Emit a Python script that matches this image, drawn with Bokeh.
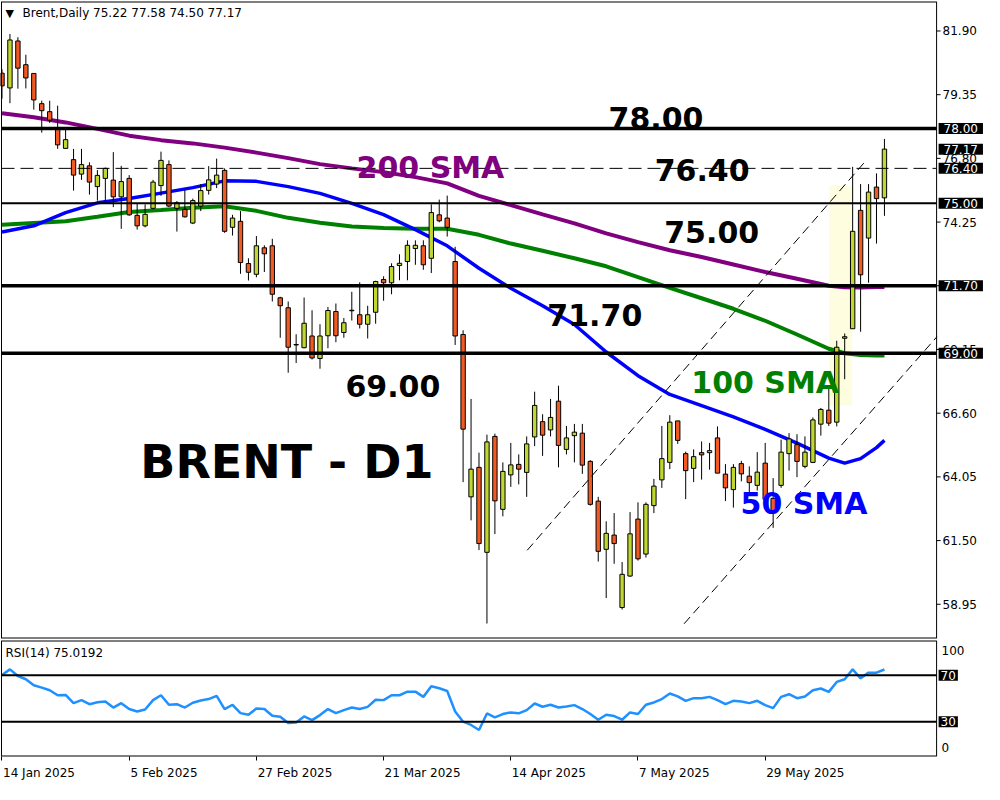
from bokeh.plotting import figure
from bokeh.layouts import column
from bokeh.models import Label, FixedTicker, Range1d
from bokeh.core.properties import value
from bokeh.embed import file_html
from bokeh.resources import INLINE

# ---------------- data (daily bars, index 0 = 14 Jan 2025) ----------------
opens = [80.21, 79.62, 81.50, 80.55, 80.20, 78.99, 78.67, 77.99, 77.20, 76.75,
         76.17, 76.50, 75.67, 76.00, 75.93, 75.26, 76.00, 74.52, 74.10, 74.80,
         75.71, 76.55, 74.80, 74.76, 74.21, 74.89, 75.52, 75.77, 76.32, 74.04,
         74.28, 72.59, 72.16, 73.22, 73.30, 71.22, 70.82, 69.33, 69.22, 69.69,
         68.79, 69.70, 70.67, 69.83, 70.70, 70.54, 70.16, 70.64, 71.95, 71.82,
         72.51, 72.67, 73.19, 73.30, 72.80, 74.54, 74.41, 72.67, 69.75, 63.25,
         64.43, 61.03, 65.67, 62.75, 64.13, 64.55, 64.23, 65.65, 66.26, 65.93,
         67.08, 65.15, 65.70, 65.80, 64.67, 63.08, 61.15, 61.72, 58.82, 60.08,
         62.36, 60.96, 62.90, 63.93, 64.63, 66.29, 64.98, 64.39, 65.02, 65.02,
         65.61, 64.16, 63.54, 64.58, 64.08, 63.71, 64.60, 63.19, 63.71, 64.98,
         65.34, 64.47, 64.63, 66.16, 66.72, 66.24, 69.60, 69.98, 74.72, 73.61,
         75.65, 75.22]
highs = [80.37, 81.78, 81.65, 80.95, 80.20, 79.11, 79.11, 78.91, 78.03, 77.18,
         77.18, 76.64, 76.33, 76.43, 77.05, 76.50, 76.13, 74.99, 74.96, 75.94,
         77.07, 76.72, 75.09, 75.54, 75.19, 75.77, 76.49, 76.79, 76.40, 74.54,
         74.69, 72.80, 73.69, 73.32, 73.58, 71.26, 71.07, 69.76, 71.23, 70.72,
         70.16, 70.85, 70.99, 70.41, 71.46, 71.84, 70.90, 71.90, 72.08, 72.60,
         72.96, 73.52, 73.52, 73.52, 74.96, 75.15, 75.31, 73.26, 69.92, 67.17,
         65.02, 65.74, 65.78, 64.63, 65.41, 64.95, 65.67, 67.46, 66.56, 67.17,
         67.70, 66.09, 66.17, 66.17, 64.72, 63.25, 62.27, 62.60, 60.64, 62.64,
         63.03, 63.03, 63.97, 66.09, 66.52, 66.29, 65.06, 65.15, 65.47, 65.41,
         66.07, 64.56, 64.56, 64.69, 64.47, 65.04, 65.41, 64.00, 65.54, 65.80,
         65.76, 65.67, 66.43, 66.81, 67.63, 69.50, 69.79, 76.46, 75.77, 75.77,
         76.20, 77.58]
lows = [79.19, 79.01, 79.59, 79.60, 78.75, 77.83, 78.22, 77.18, 77.18, 75.51,
        75.94, 75.35, 75.11, 75.07, 74.85, 73.98, 74.50, 73.95, 74.04, 74.76,
        75.30, 74.85, 73.87, 74.43, 74.17, 74.69, 75.35, 75.61, 73.82, 73.71,
        72.18, 71.91, 72.04, 72.25, 71.07, 69.62, 68.22, 68.61, 69.20, 68.75,
        68.38, 69.20, 69.44, 69.62, 70.31, 69.99, 69.59, 70.18, 71.10, 71.36,
        71.92, 71.92, 72.54, 72.34, 72.21, 74.24, 73.67, 69.33, 63.84, 62.31,
        61.12, 58.18, 61.76, 62.47, 63.65, 63.75, 63.25, 65.28, 64.89, 65.67,
        64.43, 64.95, 64.63, 64.17, 62.90, 60.66, 59.20, 60.57, 58.74, 60.05,
        60.70, 60.82, 62.60, 63.61, 64.36, 65.37, 63.16, 63.84, 63.94, 64.34,
        64.20, 63.08, 62.82, 63.87, 63.30, 63.50, 63.00, 62.01, 63.61, 64.30,
        64.04, 64.39, 64.60, 65.70, 66.09, 66.07, 67.96, 69.98, 69.86, 71.82,
        73.39, 74.50]
closes = [79.70, 81.54, 80.41, 80.02, 79.14, 78.71, 78.33, 77.34, 77.55, 76.13,
          76.55, 75.85, 76.12, 76.40, 75.26, 75.87, 74.54, 74.10, 74.56, 75.85,
          76.72, 74.89, 75.02, 74.46, 75.11, 75.51, 75.94, 76.13, 73.88, 74.41,
          72.63, 72.24, 73.30, 72.98, 71.36, 70.90, 69.24, 69.35, 70.20, 68.81,
          69.69, 70.71, 69.70, 70.22, 70.72, 70.16, 70.54, 71.87, 71.82, 72.47,
          72.60, 73.32, 73.32, 72.54, 74.63, 74.30, 74.04, 69.69, 65.96, 64.36,
          61.38, 65.45, 63.09, 64.27, 64.53, 64.36, 65.37, 66.91, 65.72, 66.43,
          65.31, 65.61, 65.84, 64.52, 62.95, 61.07, 61.79, 61.38, 60.15, 61.77,
          60.77, 62.95, 63.68, 64.78, 66.24, 65.51, 64.30, 64.86, 64.93, 65.10,
          64.20, 63.61, 64.43, 64.17, 63.82, 64.24, 63.15, 62.64, 65.04, 65.57,
          64.67, 65.04, 66.33, 66.75, 66.20, 69.24, 69.66, 73.88, 72.14, 75.45,
          75.19, 77.17]

sma_idx = [0, 4, 8, 12, 16, 20, 24, 28, 32, 36, 40, 44, 48, 52, 56, 60, 64, 68,
           72, 76, 80, 84, 88, 92, 96, 100, 104, 106, 108, 110, 111]
sma50 = [73.85, 74.10, 74.63, 75.02, 75.19, 75.41, 75.63, 75.90, 75.88, 75.67,
         75.40, 75.00, 74.55, 73.95, 73.30, 72.40, 71.60, 70.90, 70.15, 69.05,
         68.10, 67.35, 66.90, 66.45, 65.95, 65.40, 64.80, 64.60, 64.78, 65.22,
         65.51]
sma100 = [74.14, 74.21, 74.28, 74.46, 74.65, 74.73, 74.82, 74.88, 74.70, 74.42,
          74.22, 74.07, 74.01, 73.98, 73.98, 73.74, 73.39, 73.10, 72.80, 72.48,
          72.05, 71.62, 71.20, 70.78, 70.30, 69.75, 69.18, 69.00, 68.93, 68.91,
          68.91]
sma200 = [78.61, 78.45, 78.24, 77.98, 77.71, 77.53, 77.40, 77.23, 77.03, 76.81,
          76.57, 76.40, 76.25, 76.05, 75.80, 75.30, 74.93, 74.56, 74.20, 73.80,
          73.45, 73.12, 72.85, 72.55, 72.25, 71.98, 71.70, 71.64, 71.63, 71.65,
          71.65]
rsi14 = [70.3, 75.1, 69.4, 66.6, 61.4, 59.4, 57.1, 52.8, 53.1, 46.0,
         48.6, 45.1, 46.8, 47.4, 42.2, 46.0, 40.9, 38.8, 40.5, 48.6,
         52.8, 44.6, 45.1, 42.2, 46.3, 48.3, 49.5, 52.3, 40.9, 44.6,
         37.4, 36.0, 41.4, 40.9, 35.1, 34.3, 28.9, 29.4, 34.5, 31.4,
         35.7, 40.9, 37.4, 40.0, 42.2, 40.9, 42.8, 48.9, 48.6, 52.8,
         52.8, 55.9, 55.9, 51.4, 60.5, 58.8, 56.5, 38.8, 30.0, 27.2,
         22.9, 37.1, 33.7, 36.6, 38.0, 37.2, 40.0, 45.7, 42.9, 44.6,
         42.2, 43.1, 44.3, 40.9, 36.6, 31.7, 36.0, 34.9, 31.7, 38.0,
         36.6, 44.6, 46.6, 49.5, 54.3, 51.8, 48.0, 50.3, 50.3, 51.4,
         48.6, 45.1, 48.0, 47.4, 46.0, 48.0, 44.3, 41.7, 51.4, 53.7,
         50.3, 51.7, 57.1, 58.6, 55.7, 64.3, 66.6, 75.1, 67.4, 72.3,
         72.3, 75.0192]

date_idx = [0, 16, 32, 48, 64, 80, 96]
date_labels = ["14 Jan 2025", "5 Feb 2025", "27 Feb 2025", "21 Mar 2025",
               "14 Apr 2025", "7 May 2025", "29 May 2025"]
price_ticks = [81.90, 79.35, 76.80, 74.25, 71.70, 69.15, 66.60, 64.05, 61.50, 58.95]
covered_ticks = [71.70]
levels = [78.00, 76.40, 75.00, 71.70, 69.00]
rsi_levels = [70, 30]
rsi_ticks = [100, 0]

# drawn objects (channel, highlight) in bar-index / price coordinates
chan_x0 = [66.06, 85.8]
chan_y0 = [61.11, 58.17]
chan_x1 = [108.7, 117.6]
chan_y1 = [76.72, 69.66]
hl_left, hl_right, hl_bottom, hl_top = [104.06], [106.94], [66.91], [75.70]

# ---------------- geometry / style ----------------
BAR = 7.95                       # px per bar
K0, K1 = -0.0625, 117.56         # pane left / right edge in bar units
W = 984
X0 = K0 - 1.0 / BAR
X1 = X0 + W / BAR
FH, RH = 637, 116
Y0, Y1 = 57.58, 83.08
BULL, BEAR = "#BFD730", "#F15A22"
FONT = "DejaVu Sans"

xr = Range1d(X0, X1)


def pane_border(fig, ylo, yhi):
    # bottom, top, right, left edges of the pane
    fig.segment(x0=[K0, K0, K1, K0], y0=[ylo, yhi, ylo, ylo],
                x1=[K1, K1, K1, K0], y1=[ylo, yhi, yhi, yhi],
                line_color="black", line_width=[2, 2, 1, 1])


p = figure(width=W, height=FH + 2, x_range=xr, y_range=Range1d(Y0, Y1),
           x_axis_location=None, y_axis_location=None,
           toolbar_location=None, output_backend="svg",
           min_border_left=0, min_border_right=0, min_border_top=1, min_border_bottom=1,
           outline_line_color=None)
p.grid.visible = False

# highlight rectangle
p.quad(left=hl_left, right=hl_right, bottom=hl_bottom, top=hl_top,
       fill_color="#FFFDE0", line_color=None)

# moving averages
p.line(sma_idx, sma200, line_color="#800080", line_width=4)
p.line(sma_idx, sma100, line_color="#008000", line_width=4)
p.line(sma_idx, sma50, line_color="#0000FF", line_width=3.5)

# candles
xs = list(range(len(opens)))
tops = [max(o, c) for o, c in zip(opens, closes)]
bots = [min(o, c) for o, c in zip(opens, closes)]
cols = [BULL if c >= o else BEAR for o, c in zip(opens, closes)]
p.segment(x0=xs, y0=lows, x1=xs, y1=highs, line_color="black", line_width=1)
p.vbar(x=xs, width=0.55, top=tops, bottom=bots, fill_color=cols,
       line_color="black", line_width=1)

# channel lines
p.segment(x0=chan_x0, y0=chan_y0, x1=chan_x1, y1=chan_y1,
          line_color="black", line_width=1, line_dash="9 5")

# price scale (ticks + labels right of the pane)
pane_border(p, Y0, Y1)
p.segment(x0=[K1] * len(price_ticks), y0=price_ticks,
          x1=[K1 + 4 / BAR] * len(price_ticks), y1=price_ticks,
          line_color="black", line_width=1)
shown = [t for t in price_ticks if t not in covered_ticks]
p.text(x=[K1 + 6 / BAR] * len(shown), y=shown, text=["%.2f" % t for t in shown],
       text_font=value(FONT), text_font_size=value("12px"), text_color="black",
       text_align="left", text_baseline="middle")

# horizontal levels (only across the pane)
lvl_w = {78.00: 3.5, 76.40: 1, 75.00: 2, 71.70: 3.5, 69.00: 3.5}
for lv in levels:
    p.segment(x0=[K0], y0=[lv], x1=[K1], y1=[lv], line_color="black",
              line_width=lvl_w[lv], line_dash="13 6" if lv == 76.40 else "solid")

# big annotations
big = [("78.00", 76.3, 78.41, "black", "30px"),
       ("76.40", 82.1, 76.33, "black", "30px"),
       ("75.00", 83.3, 73.86, "black", "30px"),
       ("71.70", 68.6, 70.52, "black", "30px"),
       ("69.00", 43.2, 67.70, "black", "30px"),
       ("200 SMA", 44.6, 76.45, "#800080", "30px"),
       ("100 SMA", 86.7, 67.82, "#008000", "30px"),
       ("50 SMA", 92.9, 62.99, "#0000FF", "30px"),
       ("BRENT - D1", 17.4, 64.64, "black", "46px")]
for t, bx, by, c, fs in big:
    p.add_layout(Label(x=bx, y=by, text=t, text_color=c, text_font=FONT,
                       text_font_style="bold", text_font_size=fs,
                       text_align="left", text_baseline="alphabetic"))

# header
p.add_layout(Label(x=5, y=FH - 5, x_units="screen", y_units="screen", text="\u25BC",
                   text_font=FONT, text_font_size="11px", text_baseline="top",
                   text_color="black"))
p.add_layout(Label(x=22, y=FH - 4, x_units="screen", y_units="screen",
                   text="Brent,Daily  %.2f %.2f %.2f %.2f" % (opens[-1], highs[-1], lows[-1], closes[-1]),
                   text_font=FONT, text_font_size="12px", text_baseline="top",
                   text_color="black"))

# price boxes on the right scale
for lv in [78.00, closes[-1], 76.40, 75.00, 71.70, 69.00]:
    p.add_layout(Label(x=K1 + 2 / BAR, y=lv, text="%.2f" % lv, text_color="white",
                       text_font=FONT, text_font_size="12px", text_baseline="middle",
                       text_align="left", background_fill_color="black",
                       padding=(5, 1)))

# ---------------- RSI pane ----------------
r = figure(width=W, height=RH + 27, x_range=xr, y_range=Range1d(0, 100),
           y_axis_location=None, toolbar_location=None, output_backend="svg",
           min_border_left=0, min_border_right=0, min_border_top=1, min_border_bottom=26,
           outline_line_color=None)
r.grid.visible = False
lab_w = [72, 67.7, 75.3, 76, 74.1, 70.6, 78.3]
centers = [round(i + (w / 2 + 1) / BAR, 3) for i, w in zip(date_idx, lab_w)]
xa = r.xaxis[0]
xa.ticker = FixedTicker(ticks=centers, minor_ticks=date_idx)
xa.major_label_overrides = {c: l for c, l in zip(centers, date_labels)}
xa.major_tick_out = 0
xa.major_tick_in = 0
xa.minor_tick_out = 4
xa.minor_tick_in = 0
xa.minor_tick_line_color = "black"
xa.major_label_standoff = 5
xa.major_label_text_font = FONT
xa.major_label_text_font_size = "12px"
xa.major_label_text_color = "black"
xa.axis_line_color = None

r.line(xs, rsi14, line_color="#1E90FF", line_width=2.5)
for lv in rsi_levels:
    r.segment(x0=[K0], y0=[lv], x1=[K1], y1=[lv], line_color="black", line_width=2)
pane_border(r, 0, 100)
r.text(x=[K1 + 5 / BAR] * 2, y=[91, 8], text=["%d" % t for t in rsi_ticks],
       text_font=value(FONT), text_font_size=value("12px"), text_color="black",
       text_align="left", text_baseline="middle")
for lv in rsi_levels:
    r.add_layout(Label(x=K1 + 2 / BAR, y=lv, text="%d" % lv, text_color="white",
                       text_font=FONT, text_font_size="12px", text_baseline="middle",
                       text_align="left", background_fill_color="black",
                       padding=(2, 1)))
r.add_layout(Label(x=5, y=RH - 5, x_units="screen", y_units="screen",
                   text="RSI(14) %.4f" % rsi14[-1], text_font=FONT,
                   text_font_size="12px", text_baseline="top", text_color="black"))

layout = column(p, r, spacing=0)
open("out.html", "w").write(file_html(layout, INLINE))
